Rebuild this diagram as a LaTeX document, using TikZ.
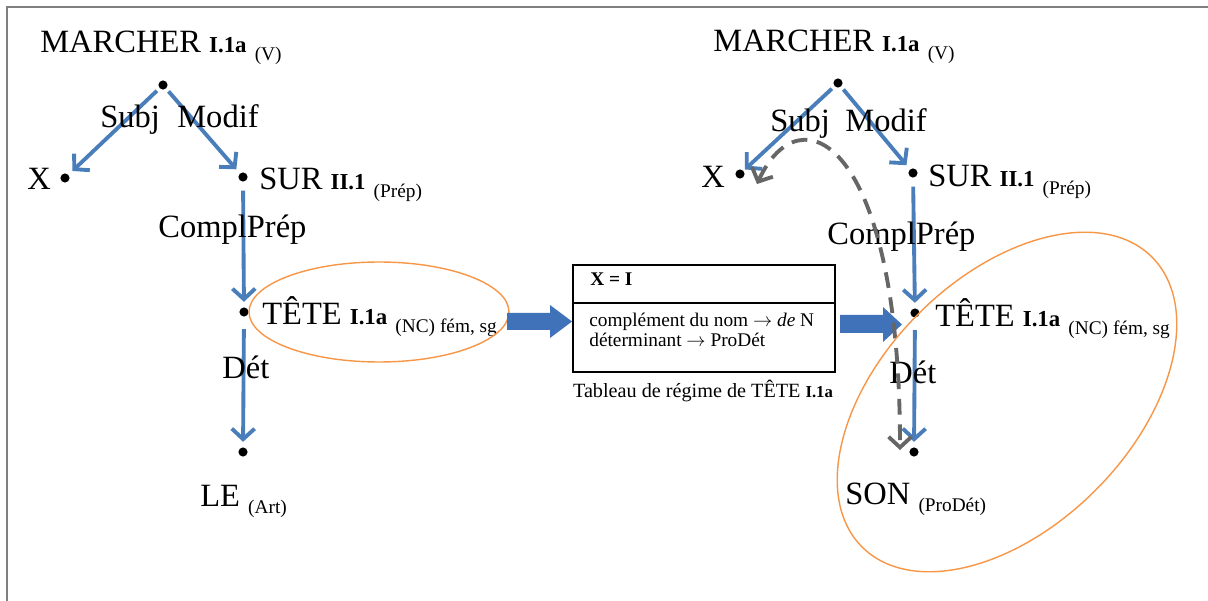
\documentclass[tikz,border=0pt]{standalone}
\usepackage{fontspec}
\setmainfont{Liberation Serif}
\usetikzlibrary{arrows.meta}
\definecolor{depblue}{HTML}{4A7EBB}
\definecolor{blockblue}{HTML}{3F72B8}
\definecolor{ellorange}{HTML}{F79646}
\definecolor{framegray}{HTML}{7F7F7F}
\definecolor{dashgray}{HTML}{666666}
\newcommand\szL{\fontsize{18.5}{22}\selectfont}
\newcommand\szB{\fontsize{13}{15}\selectfont\bfseries}
\newcommand\szS{\fontsize{11}{13}\selectfont}
\newcommand\lowtag[1]{\raisebox{-4pt}{\szS #1}}
\newcommand\longarr{\ensuremath{\rightarrow}}
\tikzset{
  dot/.style={circle, fill=black, inner sep=0pt, minimum size=5.2pt},
  lbl/.style={anchor=base west, inner sep=0pt},
  dep/.style={draw=depblue, line width=2.2pt, -{Straight Barb[length=6pt,width=13pt]},
              shorten <=2pt, shorten >=3pt},
  vdep/.style={dep, shorten <=5pt},
  corr/.style={draw=dashgray, line width=2.2pt, dash pattern=on 9pt off 5.5pt,
               {Straight Barb[length=6pt,width=13pt]}-{Straight Barb[length=6pt,width=13pt]}},
  hilite/.style={draw=ellorange, line width=0.8pt},
  blockarrow/.style={fill=blockblue, draw=none},
}
\begin{document}
\begin{tikzpicture}[x=0.02cm, y=-0.02cm]
\useasboundingbox (0,0) rectangle (1208,601);
% frame (cropped)
\draw[framegray, line width=1.2pt] (7,601) -- (7,7) -- (1208,7);

% ---------- left tree ----------
\node[dot] (r1) at (163,85) {};
\node[dot] (x1) at (65,178) {};
\node[dot] (s1) at (243,177) {};
\node[dot] (t1) at (244,312) {};
\node[dot] (l1) at (243,452) {};

\node[lbl] (m1t) at (40,53) {\szL MARCHER {\szB I.1a} \lowtag{(V)}};
\node[lbl] (x1t) at (27,190) {\szL X};
\node[lbl] (s1t) at (259,190) {\szL SUR {\szB II.1} \lowtag{(Prép)}};
\node[lbl] (t1t) at (262,325) {\szL TÊTE {\szB I.1a} \lowtag{(NC) fém, sg}};
\node[lbl] (l1t) at (200,506) {\szL LE \lowtag{(Art)}};

\draw[dep] (r1) -- (x1);
\draw[dep] (r1) -- (s1);
\draw[vdep] (s1) -- (t1);
\draw[vdep, shorten <=7pt] (t1) -- (l1);

\node[lbl] (subj1) at (100,128) {\szL Subj};
\node[lbl] (modif1) at (177,128) {\szL Modif};
\node[lbl] (cp1) at (158,238) {\szL ComplPrép};
\node[lbl] (det1) at (222,378) {\szL Dét};

\draw[hilite] (379,312) ellipse [x radius=2.6cm, y radius=1cm];

% ---------- block arrows ----------
\fill[blockarrow] (507,313) -- (550,313) -- (550,305) -- (572,321.5) -- (550,338) -- (550,330) -- (507,330) -- cycle;
\fill[blockarrow] (840,315) -- (883,315) -- (883,307) -- (902,324.5) -- (883,342) -- (883,333) -- (840,333) -- cycle;

% ---------- government table ----------
\draw[black, line width=0.8pt] (573,265) rectangle (835,372);
\draw[black, line width=0.8pt] (573,303) -- (835,303);
\node[lbl] (tx) at (590,286) {\fontsize{11}{13}\selectfont\bfseries X = I};
\node[lbl] (tl1) at (589,327) {\fontsize{11}{13}\selectfont complément du nom \longarr\ \textit{de}\ N};
\node[lbl] (tl2) at (589,347) {\fontsize{11}{13}\selectfont déterminant \longarr{} ProDét};
\node[anchor=base, inner sep=0pt] (cap) at (703,398) {\fontsize{11.5}{14}\selectfont Tableau de régime de TÊTE {\fontsize{9.5}{11}\selectfont\bfseries I.1a}};

% ---------- right tree ----------
\node[dot] (r2) at (838,83) {};
\node[dot] (x2) at (740,174) {};
\node[dot] (s2) at (913,173) {};
\node[dot] (t2) at (915,313) {};
\node[dot] (n2) at (914,452) {};

\node[lbl] (m2t) at (713,52) {\szL MARCHER {\szB I.1a} \lowtag{(V)}};
\node[lbl] (x2t) at (701,188) {\szL X};
\node[lbl] (s2t) at (928,187) {\szL SUR {\szB II.1} \lowtag{(Prép)}};
\node[lbl] (t2t) at (935,327) {\szL TÊTE {\szB I.1a} \lowtag{(NC) fém, sg}};
\node[lbl] (n2t) at (845,504) {\szL SON \lowtag{(ProDét)}};

\draw[dep, shorten >=1pt] (r2) -- (x2);
\draw[dep] (r2) -- (s2);
\draw[vdep] (s2) -- (t2);
\draw[vdep, shorten <=7pt] (t2) -- (n2);

\node[lbl] (subj2) at (770,132) {\szL Subj};
\node[lbl] (modif2) at (845,132) {\szL Modif};
\node[lbl] (cp2) at (827,245) {\szL ComplPrép};
\node[lbl] (det2) at (889,384) {\szL Dét};

\coordinate (gA) at (757,184);
\coordinate (gB) at (900,450);
\draw[corr] (gA) .. controls (800,90) and (900,140) .. (gB);

\draw[hilite, rotate around={45:(1007,402)}] (1007,402) ellipse [x radius=4.1cm, y radius=2.5cm];
\end{tikzpicture}
\end{document}
